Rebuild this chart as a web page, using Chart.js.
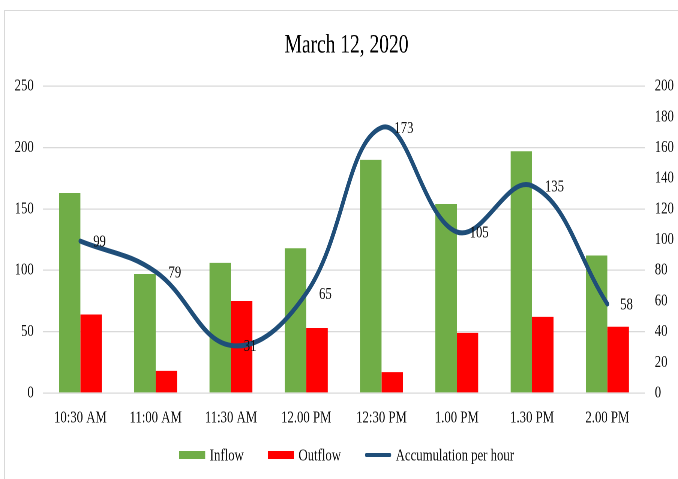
<!DOCTYPE html>
<html>
<head>
<meta charset="utf-8">
<script src="https://cdn.jsdelivr.net/npm/chart.js@4.4.0/dist/chart.umd.min.js"></script>
<style>
  html, body { margin: 0; padding: 0; background: #fff; overflow: hidden; }
  #frame { position: absolute; left: 4px; top: 10px; width: 720px; height: 520px;
           border-left: 1px solid #d9d9d9; border-top: 1px solid #d9d9d9; }
  #wrap { position: absolute; left: 0; top: 0; width: 904px; height: 479px;
          transform: scaleX(0.75); transform-origin: 0 0; }
</style>
</head>
<body>
<div id="frame"></div>
<div id="wrap"><canvas id="c" width="904" height="479"></canvas></div>
<script>
// Half-hourly flows for March 12, 2020
const timeLabels   = ['10:30 AM', '11:00 AM', '11:30 AM', '12.00 PM', '12:30 PM', '1.00 PM', '1.30 PM', '2.00 PM'];
const inflow       = [163, 97, 106, 118, 190, 154, 197, 112];
const outflow      = [64, 18, 75, 53, 17, 49, 62, 54];
const accumulation = [99, 79, 31, 65, 173, 105, 135, 58];

// Axis ranges
const leftAxis  = { min: 0, max: 250, step: 50 };
const rightAxis = { min: 0, max: 200, step: 20 };

const FONT = 'Liberation Serif, "Times New Roman", serif';
const TEXT = '#111';

// Value labels to the right of each point of the line
const lineLabels = {
  id: 'lineLabels',
  afterDatasetsDraw(chart) {
    const ctx = chart.ctx;
    chart.data.datasets.forEach((ds, i) => {
      if (ds.type !== 'line') return;
      const meta = chart.getDatasetMeta(i);
      ctx.save();
      ctx.font = '17px ' + FONT;
      ctx.fillStyle = TEXT;
      ctx.textAlign = 'left';
      ctx.textBaseline = 'middle';
      meta.data.forEach((pt, j) => {
        ctx.fillText(String(ds.data[j]), pt.x + 17, pt.y + 1);
      });
      ctx.restore();
    });
  }
};

// Legend row under the axis
const bottomLegend = {
  id: 'bottomLegend',
  afterDraw(chart) {
    const ctx = chart.ctx;
    const boxW = 35, gap = 6, itemGap = 32;
    ctx.save();
    ctx.font = '17px ' + FONT;
    const items = chart.data.datasets.map(ds => ({
      label: ds.label, color: ds.type === 'line' ? ds.borderColor : ds.backgroundColor,
      line: ds.type === 'line', w: ctx.measureText(ds.label).width
    }));
    const total = items.reduce((s, it) => s + boxW + gap + it.w, 0) + itemGap * (items.length - 1);
    const pad = chart.options.layout.padding;
    const cx = (pad.left + chart.width - pad.right) / 2;
    const y = 455;
    let x = cx - total / 2;
    items.forEach(it => {
      ctx.fillStyle = it.color;
      if (it.line) {
        ctx.strokeStyle = it.color;
        ctx.lineWidth = 4;
        ctx.lineCap = 'round';
        ctx.beginPath();
        ctx.moveTo(x + 2, y);
        ctx.lineTo(x + boxW - 2, y);
        ctx.stroke();
      } else {
        ctx.fillRect(x, y - 4, boxW, 8);
      }
      ctx.fillStyle = TEXT;
      ctx.textAlign = 'left';
      ctx.textBaseline = 'middle';
      ctx.fillText(it.label, x + boxW + gap, y + 1);
      x += boxW + gap + it.w + itemGap;
    });
    ctx.restore();
  }
};

new Chart(document.getElementById('c'), {
  data: {
    labels: timeLabels,
    datasets: [
      { type: 'bar', label: 'Inflow', data: inflow, backgroundColor: '#70AD47',
        yAxisID: 'y', order: 1, categoryPercentage: 0.57, barPercentage: 1.0 },
      { type: 'bar', label: 'Outflow', data: outflow, backgroundColor: '#FF0000',
        yAxisID: 'y', order: 1, categoryPercentage: 0.57, barPercentage: 1.0 },
      { type: 'line', label: 'Accumulation per hour', data: accumulation,
        borderColor: '#1F4E79', backgroundColor: '#1F4E79', borderWidth: 5,
        borderCapStyle: 'round', tension: 0.4, pointRadius: 0, fill: false,
        yAxisID: 'y1', order: 0 }
    ]
  },
  options: {
    responsive: false,
    animation: false,
    devicePixelRatio: 2,
    layout: { padding: { left: 20, right: 0, top: 0, bottom: 40 } },
    plugins: {
      legend: { display: false },
      tooltip: { enabled: false },
      title: {
        display: true, text: 'March 12, 2020', color: '#000',
        font: { family: FONT, size: 26, weight: 'normal' },
        padding: { top: 30, bottom: 25 }
      }
    },
    scales: {
      x: {
        grid: { display: false },
        border: { display: false },
        ticks: { color: TEXT, font: { family: FONT, size: 17 }, padding: 7, maxRotation: 0 },
        afterFit(s) { s.height = 46; }
      },
      y: {
        position: 'left',
        min: leftAxis.min, max: leftAxis.max,
        grid: { color: '#d9d9d9', lineWidth: 1.3, drawTicks: false },
        border: { display: false },
        ticks: { stepSize: leftAxis.step, color: TEXT, font: { family: FONT, size: 17 }, padding: 12 },
        afterFit(s) { s.width = 37; }
      },
      y1: {
        position: 'right',
        min: rightAxis.min, max: rightAxis.max,
        grid: { drawOnChartArea: false, drawTicks: false },
        border: { display: false },
        ticks: { stepSize: rightAxis.step, color: TEXT, font: { family: FONT, size: 17 }, padding: 13 },
        afterFit(s) { s.width = 44; }
      }
    }
  },
  plugins: [lineLabels, bottomLegend]
});
</script>
</body>
</html>
